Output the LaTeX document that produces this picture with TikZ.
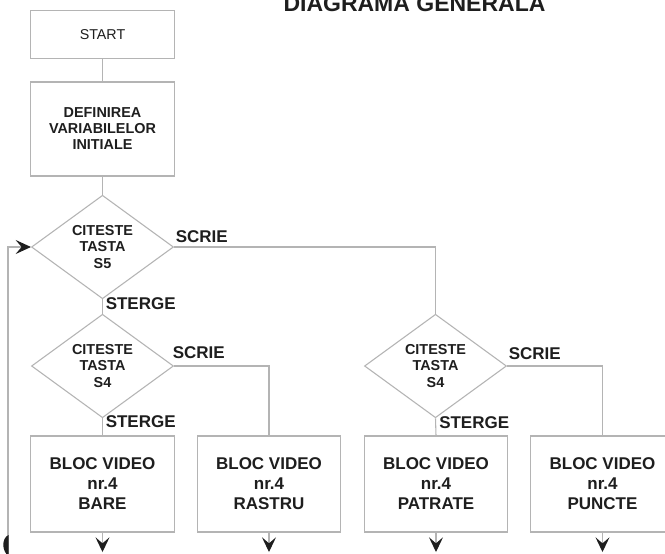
\documentclass[tikz,border=0pt]{standalone}
\usepackage{fontspec}
\setmainfont{Liberation Sans}
\usetikzlibrary{arrows.meta,shapes.geometric}
\definecolor{ln}{HTML}{B4B4B4}
\definecolor{tx}{HTML}{1E1E1E}
\begin{document}
\begin{tikzpicture}[x=0.75pt,y=-0.75pt,
  every node/.style={text=tx},
  conn/.style={draw=ln, line width=0.8pt},
  procbox/.style={draw=ln, line width=0.8pt, minimum width=107.7pt, inner sep=0pt, align=center},
  dec/.style={diamond, draw=ln, line width=0.8pt, minimum width=106.5pt, minimum height=71.25pt, inner sep=0pt, align=center, font=\bfseries\fontsize{10.8}{12.2}\selectfont},
  lbl/.style={anchor=west, font=\bfseries\fontsize{12.75}{15}\selectfont, inner sep=0pt},
  vbox/.style={procbox, minimum height=72pt, font=\bfseries\fontsize{12.75}{15}\selectfont},
  tipd/.style={-{Stealth[length=11pt,width=10.5pt,inset=4.5pt,color=tx]}}
]
\useasboundingbox (0,0) rectangle (665,554);
\fill[white] (0,0) rectangle (665,554);

\node[anchor=base, font=\bfseries\fontsize{17.25}{20}\selectfont, text=tx] (title) at (414.5,11.5) {DIAGRAMA GENERALA};

\node[procbox, minimum height=35.7pt, font=\fontsize{10.7}{12}\selectfont] (start) at (102.5,34.5) {START};
\node[procbox, minimum height=70.5pt, font=\bfseries\fontsize{10.8}{12}\selectfont] (def) at (102.5,129) {DEFINIREA\\VARIABILELOR\\INITIALE};

\node[dec] (d1) at (102.5,247) {CITESTE\\TASTA\\S5};
\node[dec] (d2) at (102.5,366) {CITESTE\\TASTA\\S4};
\node[dec] (d3) at (435.5,366) {CITESTE\\TASTA\\S4};

\node[vbox] (b1) at (102.5,484) {BLOC VIDEO\\nr.4\\BARE};
\node[vbox] (b2) at (269,484) {BLOC VIDEO\\nr.4\\RASTRU};
\node[vbox] (b3) at (436,484) {BLOC VIDEO\\nr.4\\PATRATE};
\node[vbox] (b4) at (602.5,484) {BLOC VIDEO\\nr.4\\PUNCTE};

\node[lbl] (s1) at (175.5,237) {SCRIE};
\node[lbl] (t1) at (105.5,304) {STERGE};
\node[lbl] (s2) at (172.5,353) {SCRIE};
\node[lbl] (t2) at (105.5,421.5) {STERGE};
\node[lbl] (s3) at (508.5,354) {SCRIE};
\node[lbl] (t3) at (439,423) {STERGE};

\draw[conn] (start) -- (def);
\draw[conn] (def) -- (d1);
\draw[conn] (d1.south) -- (d2.north);
\draw[conn] (d1.east) -| (d3.north);
\draw[conn] (d2.south) -- (b1.north);
\draw[conn] (d2.east) -| (b2.north);
\draw[conn] (d3.south) -- (b3.north);
\draw[conn] (d3.east) -| (b4.north);

\coordinate (e1) at (102.5,552);
\coordinate (e2) at (269,552);
\coordinate (e3) at (436,552);
\coordinate (e4) at (602.5,552);
\draw[conn,tipd] (b1.south) -- (e1);
\draw[conn,tipd] (b2.south) -- (e2);
\draw[conn,tipd] (b3.south) -- (e3);
\draw[conn,tipd] (b4.south) -- (e4);

\coordinate (fb) at (8,560);
\draw[conn,-{Stealth[length=11.5pt,width=10.5pt,inset=4.5pt,color=tx]}] (fb) |- (d1.west);
\fill[tx] (8.6,535) .. controls (1.5,538) and (1.5,551) .. (8.6,556) -- cycle;
\end{tikzpicture}
\end{document}
